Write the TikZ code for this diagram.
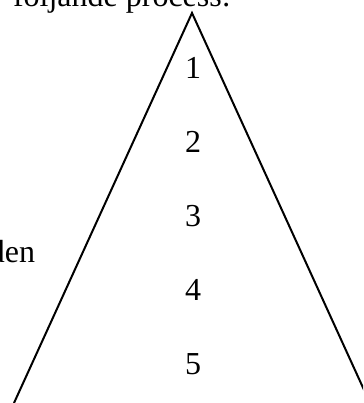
\documentclass[tikz,border=0pt]{standalone}
\usepackage{fontspec}
\setmainfont{Liberation Serif}
\usetikzlibrary{positioning}

\begin{document}
\begin{tikzpicture}[x=1pt, y=-1pt, node distance=74pt, line width=2pt,
    txt/.style={font=\fontsize{32}{38}\selectfont, inner sep=0pt}]
    \useasboundingbox (0,0) rectangle (363,403);
    \clip (0,0) rectangle (363,403);

    % Corners
    \coordinate (apex) at (192,13);
    \coordinate (left) at (14,403);
    \coordinate (right) at (370,403);

    % Nodes
    \node (intro) [txt, anchor=base west] at (12,7) {följande process:};
    \node (side) [txt, anchor=base east] at (36,262) {den};
    \node (step1) [txt] at (193,68) {1};
    \node (step2) [txt, below of=step1] {2};
    \node (step3) [txt, below of=step2] {3};
    \node (step4) [txt, below of=step3] {4};
    \node (step5) [txt, below of=step4] {5};

    % Sides
    \draw (left) -- (apex) -- (right);
\end{tikzpicture}
\end{document}
